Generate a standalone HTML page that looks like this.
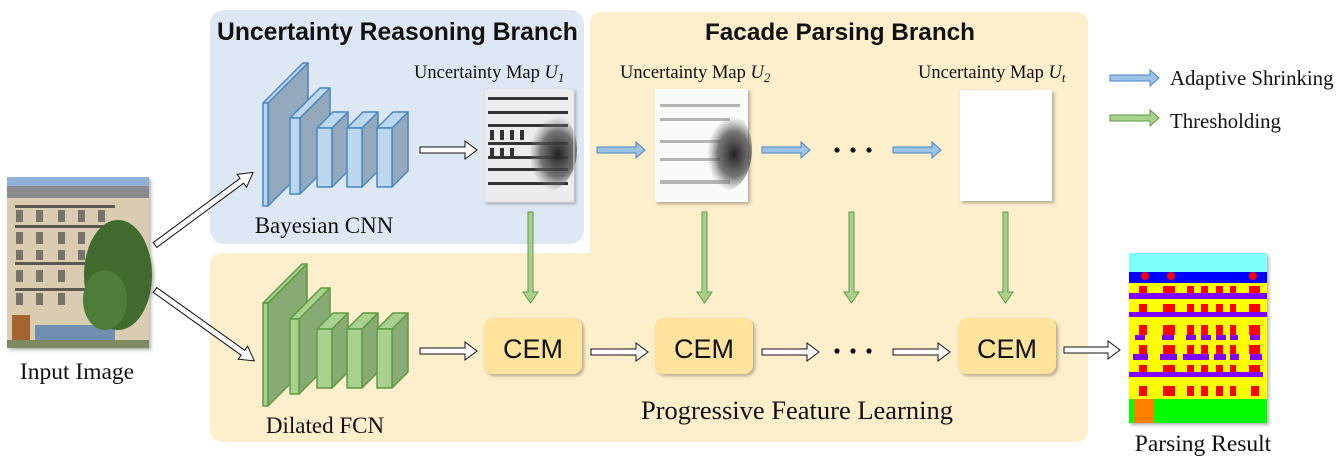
<!DOCTYPE html>
<html><head><meta charset="utf-8"><style>
html,body{margin:0;padding:0;background:#fff;}
svg{display:block;}
.s{font-family:"Liberation Serif",serif;fill:#111;}
.b{font-family:"Liberation Sans",sans-serif;font-weight:bold;fill:#111;}
.c{font-family:"Liberation Sans",sans-serif;fill:#111;}
</style></head><body>
<svg width="1339" height="465" viewBox="0 0 1339 465" xmlns="http://www.w3.org/2000/svg">
<defs>
<filter id="sh" x="-10%" y="-10%" width="130%" height="130%"><feDropShadow dx="2" dy="2" stdDeviation="1.5" flood-color="#000" flood-opacity="0.3"/></filter>
<radialGradient id="dk" cx="0.7" cy="0.55" r="0.45"><stop offset="0" stop-color="#222"/><stop offset="0.6" stop-color="#555" stop-opacity="0.8"/><stop offset="1" stop-color="#888" stop-opacity="0"/></radialGradient>
</defs>
<path d="M602 12 H1075 Q1088 12 1088 25 V429 Q1088 442 1075 442 H224 Q210 442 210 428 V267 Q210 253 224 253 H590 V25 Q590 12 602 12 Z" fill="#fdefcc"/>
<rect x="210" y="10" width="374" height="234" rx="14" fill="#dde8f4"/>

<text class="b" x="217" y="40" font-size="24.7">Uncertainty Reasoning Branch</text>
<text class="b" x="840" y="40" font-size="24.3" text-anchor="middle">Facade Parsing Branch</text>

<g stroke="#4a86c5" stroke-width="1.5" stroke-linejoin="round">
<polygon points="268,103 308,63 308,166 268,206" fill="#95a9bd"/><polygon points="263,103 303,63 308,63 268,103" fill="#bdd7ee"/><rect x="263" y="103" width="5" height="103" fill="#bdd7ee"/>
<polygon points="300,118 330,88 330,164 300,194" fill="#95a9bd"/><polygon points="290,118 320,88 330,88 300,118" fill="#bdd7ee"/><rect x="290" y="118" width="10" height="76" fill="#bdd7ee"/>
<polygon points="332,128 348,112 348,171 332,187" fill="#95a9bd"/><polygon points="317,128 333,112 348,112 332,128" fill="#bdd7ee"/><rect x="317" y="128" width="15" height="59" fill="#bdd7ee"/>
<polygon points="362,128 378,112 378,171 362,187" fill="#95a9bd"/><polygon points="347,128 363,112 378,112 362,128" fill="#bdd7ee"/><rect x="347" y="128" width="15" height="59" fill="#bdd7ee"/>
<polygon points="392,128 408,112 408,171 392,187" fill="#95a9bd"/><polygon points="377,128 393,112 408,112 392,128" fill="#bdd7ee"/><rect x="377" y="128" width="15" height="59" fill="#bdd7ee"/>
</g>
<text class="s" x="324" y="233" font-size="23" text-anchor="middle">Bayesian CNN</text>

<g stroke="#5f9a45" stroke-width="1.5" stroke-linejoin="round">
<polygon points="268,303 307,264 307,367 268,406" fill="#87ab72"/><polygon points="263,303 302,264 307,264 268,303" fill="#a9d18e"/><rect x="263" y="303" width="5" height="103" fill="#a9d18e"/>
<polygon points="299,319 330,288 330,363 299,394" fill="#87ab72"/><polygon points="290,319 321,288 330,288 299,319" fill="#a9d18e"/><rect x="290" y="319" width="9" height="75" fill="#a9d18e"/>
<polygon points="332,329 348,313 348,372 332,388" fill="#87ab72"/><polygon points="317,329 333,313 348,313 332,329" fill="#a9d18e"/><rect x="317" y="329" width="15" height="59" fill="#a9d18e"/>
<polygon points="362,329 378,313 378,372 362,388" fill="#87ab72"/><polygon points="347,329 363,313 378,313 362,329" fill="#a9d18e"/><rect x="347" y="329" width="15" height="59" fill="#a9d18e"/>
<polygon points="392,329 408,313 408,372 392,388" fill="#87ab72"/><polygon points="377,329 393,313 408,313 392,329" fill="#a9d18e"/><rect x="377" y="329" width="15" height="59" fill="#a9d18e"/>
</g>
<text class="s" x="325" y="433" font-size="23" text-anchor="middle">Dilated FCN</text>

<g filter="url(#sh)">
<rect x="7" y="177" width="142" height="171" fill="#d9ccb0"/>
<rect x="7" y="177" width="142" height="14" fill="#8fb0d8"/>
<rect x="7" y="186" width="142" height="12" fill="#8a8a8e"/>
<g fill="#5b5852">
<rect x="15" y="205" width="100" height="3"/><rect x="15" y="225" width="100" height="3"/><rect x="15" y="262" width="100" height="3"/><rect x="15" y="288" width="100" height="3"/>
</g>
<g fill="#77736a">
<rect x="16" y="210" width="7" height="12"/><rect x="36" y="210" width="7" height="12"/><rect x="58" y="210" width="7" height="12"/><rect x="78" y="210" width="7" height="12"/><rect x="98" y="210" width="7" height="12"/>
<rect x="16" y="232" width="7" height="12"/><rect x="36" y="232" width="7" height="12"/><rect x="58" y="232" width="7" height="12"/><rect x="78" y="232" width="7" height="12"/>
<rect x="16" y="250" width="7" height="10"/><rect x="36" y="250" width="7" height="10"/><rect x="58" y="250" width="7" height="10"/><rect x="78" y="250" width="7" height="10"/>
<rect x="16" y="270" width="7" height="12"/><rect x="36" y="270" width="7" height="12"/><rect x="58" y="270" width="7" height="12"/>
<rect x="16" y="293" width="7" height="12"/><rect x="36" y="293" width="7" height="12"/><rect x="58" y="293" width="7" height="12"/>
</g>
<rect x="12" y="315" width="18" height="30" fill="#a2652f"/>
<rect x="35" y="325" width="80" height="20" fill="#6f8fb0"/>
<ellipse cx="118" cy="275" rx="34" ry="55" fill="#3f6b2e"/>
<ellipse cx="105" cy="300" rx="22" ry="30" fill="#4e7d37"/>
<rect x="7" y="340" width="142" height="8" fill="#7d8a62"/>
</g>
<text class="s" x="77" y="379" font-size="23.5" text-anchor="middle">Input Image</text>

<text class="s" x="414" y="78" font-size="18.5">Uncertainty Map <tspan font-style="italic">U</tspan><tspan font-style="italic" font-size="13" dy="4">1</tspan></text>
<text class="s" x="620" y="78" font-size="18.5">Uncertainty Map <tspan font-style="italic">U</tspan><tspan font-style="italic" font-size="13" dy="4">2</tspan></text>
<text class="s" x="918" y="78" font-size="18.5">Uncertainty Map <tspan font-style="italic">U</tspan><tspan font-style="italic" font-size="13" dy="4">t</tspan></text>

<g filter="url(#sh)">
<rect x="484" y="89" width="90" height="113" fill="#ececec"/>
</g>
<g fill="#333">
<rect x="488" y="97" width="80" height="3"/><rect x="488" y="111" width="80" height="3"/><rect x="488" y="124" width="80" height="3"/><rect x="488" y="142" width="80" height="3"/><rect x="488" y="156" width="80" height="3"/><rect x="488" y="168" width="80" height="3"/><rect x="488" y="182" width="80" height="3"/>
<rect x="490" y="130" width="4" height="10"/><rect x="500" y="130" width="4" height="10"/><rect x="510" y="130" width="4" height="10"/><rect x="520" y="130" width="4" height="10"/>
<rect x="490" y="148" width="4" height="8"/><rect x="500" y="148" width="4" height="8"/><rect x="510" y="148" width="4" height="8"/>
</g>
<ellipse cx="545" cy="150" rx="32" ry="42" fill="url(#dk)"/>
<rect x="484" y="89" width="90" height="113" fill="none" stroke="#ddd" stroke-width="1"/>

<g filter="url(#sh)">
<rect x="655" y="89" width="93" height="113" fill="#fafafa"/>
</g>
<g fill="#999" opacity="0.7">
<rect x="660" y="104" width="80" height="3"/><rect x="660" y="118" width="70" height="3"/><rect x="660" y="140" width="60" height="3"/><rect x="660" y="158" width="60" height="3"/><rect x="660" y="180" width="70" height="4"/>
</g>
<ellipse cx="722" cy="150" rx="30" ry="42" fill="url(#dk)"/>

<rect x="960" y="90" width="92" height="111" fill="#fff" filter="url(#sh)"/>

<polygon points="1110,75 1150,75 1150,70 1159,78 1150,86 1150,81 1110,81" fill="#9dc3e6" stroke="#4a86c5" stroke-width="1"/>
<text class="s" x="1170" y="85" font-size="20.8">Adaptive Shrinking</text>
<polygon points="1110,115 1150,115 1150,110 1159,118 1150,126 1150,121 1110,121" fill="#a9d18e" stroke="#5f9a45" stroke-width="1"/>
<text class="s" x="1170" y="128" font-size="20.8">Thresholding</text>

<g fill="#9dc3e6" stroke="#4a86c5" stroke-width="1">
<polygon points="597,147 636,147 636,142 645,150 636,158 636,153 597,153"/>
<polygon points="762,147 801,147 801,142 810,150 801,158 801,153 762,153"/>
<polygon points="893,147 932,147 932,142 941,150 932,158 932,153 893,153"/>
</g>
<g fill="#111"><circle cx="837" cy="150" r="2.6"/><circle cx="853" cy="150" r="2.6"/><circle cx="869" cy="150" r="2.6"/>
<circle cx="837" cy="351" r="2.6"/><circle cx="853" cy="351" r="2.6"/><circle cx="869" cy="351" r="2.6"/></g>

<g fill="#a9d18e" stroke="#5f9a45" stroke-width="1">
<polygon points="528,212 533,212 533,292 538,292 530.5,303 523,292 528,292"/>
<polygon points="702,212 707,212 707,292 712,292 704.5,303 697,292 702,292"/>
<polygon points="849,212 854,212 854,292 859,292 851.5,303 844,292 849,292"/>
<polygon points="1003,212 1008,212 1008,292 1013,292 1005.5,303 998,292 1003,292"/>
</g>

<g filter="url(#sh)" fill="#fde39b">
<rect x="484" y="318" width="98" height="56" rx="9"/>
<rect x="655" y="318" width="98" height="56" rx="9"/>
<rect x="958" y="318" width="98" height="56" rx="9"/>
</g>
<text class="c" x="533" y="358" font-size="27" text-anchor="middle">CEM</text>
<text class="c" x="704" y="358" font-size="27" text-anchor="middle">CEM</text>
<text class="c" x="1007" y="358" font-size="27" text-anchor="middle">CEM</text>

<g fill="#fff" stroke="#111" stroke-width="1">
<polygon points="420,147 465,147 465,141 477,150 465,159 465,153 420,153"/>
<polygon points="420,348 465,348 465,342 477,351 465,360 465,354 420,354"/>
<polygon points="591,349 636,349 636,343 648,352 636,361 636,355 591,355"/>
<polygon points="762,349 807,349 807,343 819,352 807,361 807,355 762,355"/>
<polygon points="893,349 938,349 938,343 950,352 938,361 938,355 893,355"/>
<polygon points="1064,347 1108,347 1108,341 1120,350 1108,359 1108,353 1064,353"/>
<g transform="translate(155,245) rotate(-36.5)"><polygon points="0,-3 108,-3 108,-8 122,0 108,8 108,3 0,3"/></g>
<g transform="translate(155,290) rotate(35.5)"><polygon points="0,-3 108,-3 108,-8 122,0 108,8 108,3 0,3"/></g>
</g>

<text class="s" x="797" y="419" font-size="26.5" text-anchor="middle">Progressive Feature Learning</text>

<g filter="url(#sh)">
<rect x="1129" y="253" width="138" height="170" fill="#ffff00"/>
</g>
<rect x="1129" y="253" width="138" height="19" fill="#80ffff"/>
<rect x="1129" y="272" width="138" height="11" fill="#0000ff"/>
<g fill="#ff0000"><circle cx="1145" cy="276" r="4"/><circle cx="1171" cy="276" r="4"/><circle cx="1253" cy="276" r="4"/></g>
<g fill="#8000ff">
<rect x="1129" y="293" width="138" height="6"/><rect x="1129" y="312" width="138" height="5"/><rect x="1129" y="372" width="134" height="5"/>
<rect x="1135" y="335" width="10" height="5"/><rect x="1162" y="335" width="12" height="5"/><rect x="1186" y="335" width="10" height="5"/><rect x="1201" y="335" width="10" height="5"/><rect x="1216" y="335" width="10" height="5"/><rect x="1230" y="335" width="8" height="5"/><rect x="1250" y="335" width="10" height="5"/>
<rect x="1133" y="354" width="15" height="6"/><rect x="1160" y="354" width="17" height="6"/><rect x="1183" y="354" width="26" height="6"/><rect x="1214" y="354" width="12" height="6"/><rect x="1230" y="354" width="9" height="6"/><rect x="1250" y="354" width="12" height="6"/>
</g>
<g fill="#ff0000">
<rect x="1139" y="286" width="8" height="7"/><rect x="1163" y="286" width="12" height="7"/><rect x="1187" y="286" width="7" height="7"/><rect x="1201" y="286" width="7" height="7"/><rect x="1216" y="286" width="7" height="7"/><rect x="1230" y="286" width="6" height="7"/><rect x="1249" y="286" width="11" height="7"/>
<rect x="1139" y="304" width="8" height="8"/><rect x="1163" y="304" width="12" height="8"/><rect x="1187" y="304" width="7" height="8"/><rect x="1201" y="304" width="7" height="8"/><rect x="1216" y="304" width="7" height="8"/><rect x="1230" y="304" width="6" height="8"/><rect x="1249" y="304" width="11" height="8"/>
<rect x="1139" y="325" width="8" height="10"/><rect x="1163" y="325" width="12" height="10"/><rect x="1187" y="325" width="7" height="10"/><rect x="1201" y="325" width="7" height="10"/><rect x="1216" y="325" width="7" height="10"/><rect x="1230" y="325" width="6" height="10"/><rect x="1249" y="325" width="11" height="10"/>
<rect x="1139" y="345" width="8" height="9"/><rect x="1163" y="345" width="12" height="9"/><rect x="1187" y="345" width="7" height="9"/><rect x="1201" y="345" width="7" height="9"/><rect x="1216" y="345" width="7" height="9"/><rect x="1230" y="345" width="6" height="9"/><rect x="1249" y="345" width="11" height="9"/>
<rect x="1139" y="365" width="8" height="7"/><rect x="1163" y="365" width="12" height="7"/><rect x="1187" y="365" width="7" height="7"/><rect x="1201" y="365" width="7" height="7"/><rect x="1216" y="365" width="7" height="7"/><rect x="1230" y="365" width="6" height="7"/><rect x="1249" y="365" width="11" height="7"/>
<rect x="1139" y="386" width="8" height="10"/><rect x="1163" y="386" width="12" height="10"/><rect x="1187" y="386" width="7" height="10"/><rect x="1201" y="386" width="7" height="10"/><rect x="1216" y="386" width="7" height="10"/><rect x="1230" y="386" width="6" height="10"/><rect x="1251" y="386" width="8" height="10"/>
</g>
<rect x="1129" y="399" width="138" height="24" fill="#00ff00"/>
<rect x="1134" y="399" width="20" height="24" fill="#ff8000"/>
<text class="s" x="1203" y="451" font-size="23.5" text-anchor="middle">Parsing Result</text>
</svg>
</body></html>
